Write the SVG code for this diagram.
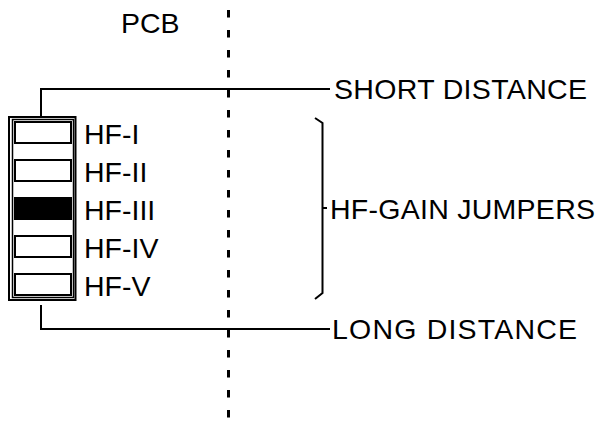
<svg xmlns="http://www.w3.org/2000/svg" width="604" height="426" viewBox="0 0 604 426">
<style>
text{font-family:"Liberation Sans",Arial,Helvetica,sans-serif;font-size:28.5px;fill:#000}
.ln{fill:none;stroke:#000;stroke-width:2}
.jp{fill:#fff;stroke:#000;stroke-width:2}
</style>
<rect width="604" height="426" fill="#fff"/>
<g id="boundary">
<line x1="228.5" y1="10" x2="228.5" y2="426" stroke="#000" stroke-width="3" stroke-dasharray="7.5 12.5"/>
<text x="121" y="33">PCB</text>
</g>
<g id="connectors">
<polyline class="ln" points="41,116 41,89 330,89"/>
<polyline class="ln" points="41,305 41,329 330,329"/>
<polyline class="ln" points="315,118 322.5,123 322.5,293 315,299"/>
<line class="ln" x1="322.5" y1="208" x2="327" y2="208"/>
</g>
<g id="jumper-block">
<rect x="9" y="117" width="66.5" height="183" fill="#fff" stroke="#000" stroke-width="2"/>
<rect x="12.5" y="119.5" width="61" height="178" fill="none" stroke="#000" stroke-width="1.5"/>
</g>
<g id="hf-i"><rect class="jp" x="15" y="122" width="56" height="21"/><text x="84" y="143.5">HF-I</text></g>
<g id="hf-ii"><rect class="jp" x="15" y="160" width="56" height="21"/><text x="84" y="181.5">HF-II</text></g>
<g id="hf-iii"><rect x="15" y="198" width="56" height="21" fill="#000" stroke="#000" stroke-width="2"/><text x="84" y="219.5">HF-III</text></g>
<g id="hf-iv"><rect class="jp" x="15" y="236" width="56" height="21"/><text x="84" y="257.5">HF-IV</text></g>
<g id="hf-v"><rect class="jp" x="15" y="274" width="56" height="21"/><text x="84" y="295.5">HF-V</text></g>
<g id="short-distance"><text x="334" y="99" textLength="253" lengthAdjust="spacing">SHORT DISTANCE</text></g>
<g id="hf-gain-jumpers"><text x="330" y="218.5" textLength="265" lengthAdjust="spacing">HF-GAIN JUMPERS</text></g>
<g id="long-distance"><text x="332" y="339" textLength="245" lengthAdjust="spacing">LONG DISTANCE</text></g>
</svg>
